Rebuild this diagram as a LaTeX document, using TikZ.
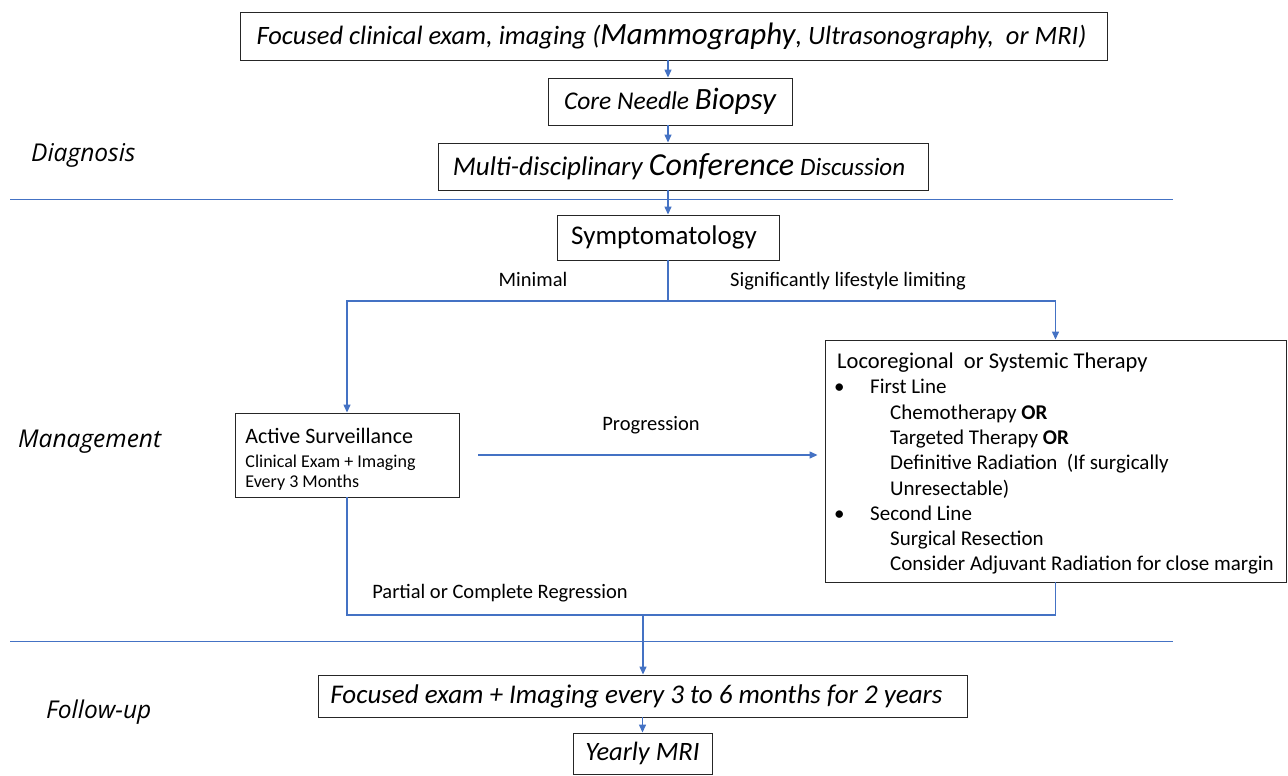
\documentclass[tikz,border=0pt]{standalone}
\usepackage{fontspec}
\setmainfont{Carlito}
\newfontfamily\sectfont{Open Sans}
\usetikzlibrary{arrows.meta}
\definecolor{flowblue}{RGB}{68,114,196}
\newcommand{\fs}[1]{\fontsize{#1}{\fpeval{1.2*#1}}\selectfont}

\tikzset{
	box/.style={draw=black!85, line width=0.9pt, inner sep=0pt, align=center},
	flow/.style={draw=flowblue, line width=1.3pt, -{Triangle[length=8pt,width=7pt]}},
	link/.style={draw=flowblue, line width=1.3pt},
	divider/.style={draw=flowblue, line width=1pt},
	lbl/.style={inner sep=0pt, font=\fs{20.5}},
	sect/.style={inner sep=0pt, anchor=west, font=\sectfont\itshape\fs{24.5}}
}

\begin{document}
\begin{tikzpicture}[x=1pt,y=-1pt]
	\useasboundingbox (0,0) rectangle (1288,776);

	% section names
	\node[sect] (diag) at (31,155) {Diagnosis};
	\node[sect] (manage) at (18,442) {Management};
	\node[sect] (follow) at (46,712) {Follow-up};

	% dividers
	\coordinate (d1a) at (10,199);
	\coordinate (d1b) at (1173,199);
	\coordinate (d2a) at (10,641);
	\coordinate (d2b) at (1173,641);
	\draw[divider] (d1a) -- (d1b);
	\draw[divider] (d2a) -- (d2b);

	% diagnosis
	\node[box, minimum width=867, minimum height=48, font=\itshape\fs{26.5}] (exam) at (673.5,36)
		{Focused clinical exam, imaging ({\fs{31}Mammography}, Ultrasonography,\ \ or MRI)\kern4pt};
	\node[box, minimum width=244, minimum height=47, font=\itshape\fs{25.5}] (biopsy) at (670,101.5)
		{Core Needle {\fs{31}Biopsy}};
	\node[box, minimum width=490, minimum height=47, font=\itshape\fs{27}] (conf) at (683,166.5)
		{Multi-disciplinary {\fs{32}Conference} {\fs{25}Discussion}\kern8pt};

	% management
	\node[box, minimum width=222, minimum height=45, font=\fs{27}] (symp) at (668,237.5) {Symptomatology\kern8pt};
	\node[box, minimum width=224, minimum height=84, align=left,
		font=\fontsize{18}{20}\selectfont] (surv) at (347,455)
		{\rule{0pt}{23.5pt}{\fs{22}Active Surveillance}\\[4pt]
		Clinical Exam + Imaging\kern33pt\\
		Every 3 Months};
	\node[box, minimum width=461, minimum height=242, align=left,
		font=\fontsize{21}{25.3}\selectfont] (therapy) at (1055.5,461)
		{\rule{0pt}{21pt}{\fs{22.5}Locoregional\ \ or Systemic Therapy}\\
		\hspace*{-3pt}\makebox[36pt][l]{\textbullet}First Line\\
		\hspace*{53pt}Chemotherapy \textbf{OR}\\
		\hspace*{53pt}Targeted Therapy \textbf{OR}\\
		\hspace*{53pt}Definitive Radiation\ \ (If surgically\\
		\hspace*{53pt}Unresectable)\\
		\hspace*{-3pt}\makebox[36pt][l]{\textbullet}Second Line\\
		\hspace*{53pt}Surgical Resection\\
		\hspace*{53pt}Consider Adjuvant Radiation for close margin};

	% follow-up
	\node[box, minimum width=649, minimum height=42, font=\itshape\fs{27}] (exams) at (642.5,696)
		{Focused exam + Imaging every 3 to 6 months for 2 years\kern12pt};
	\node[box, minimum width=139, minimum height=41, font=\itshape\fs{26.5}] (mri) at (642.5,753.5) {Yearly MRI};

	% connectors
	\draw[flow] (exam.south -| symp) -- (biopsy.north -| symp);
	\draw[flow] (biopsy.south -| symp) -- (conf.north -| symp);
	\draw[flow] (conf.south -| symp) -- (symp.north);
	\coordinate (split) at (668,301);
	\draw[link] (symp.south) -- (split);
	\draw[flow] (split) -| (surv.north);
	\draw[flow] (split) -| (therapy.north);
	\draw[flow, shorten <=19pt, shorten >=7pt] (surv.east) -- (surv.east -| therapy.west);
	\coordinate (merge) at (643,615);
	\draw[link] (surv.south) |- (merge) -| (therapy.south);
	\draw[flow] (merge) -- (exams.north -| merge);
	\draw[flow] (exams.south) -- (mri.north);

	% branch labels
	\node[lbl] (minimal) at (533,279) {Minimal};
	\node[lbl] (limiting) at (848,281) {Significantly lifestyle limiting};
	\node[lbl] (progress) at (651,425) {Progression};
	\node[lbl] (regress) at (500,593) {Partial or Complete Regression};
\end{tikzpicture}
\end{document}
